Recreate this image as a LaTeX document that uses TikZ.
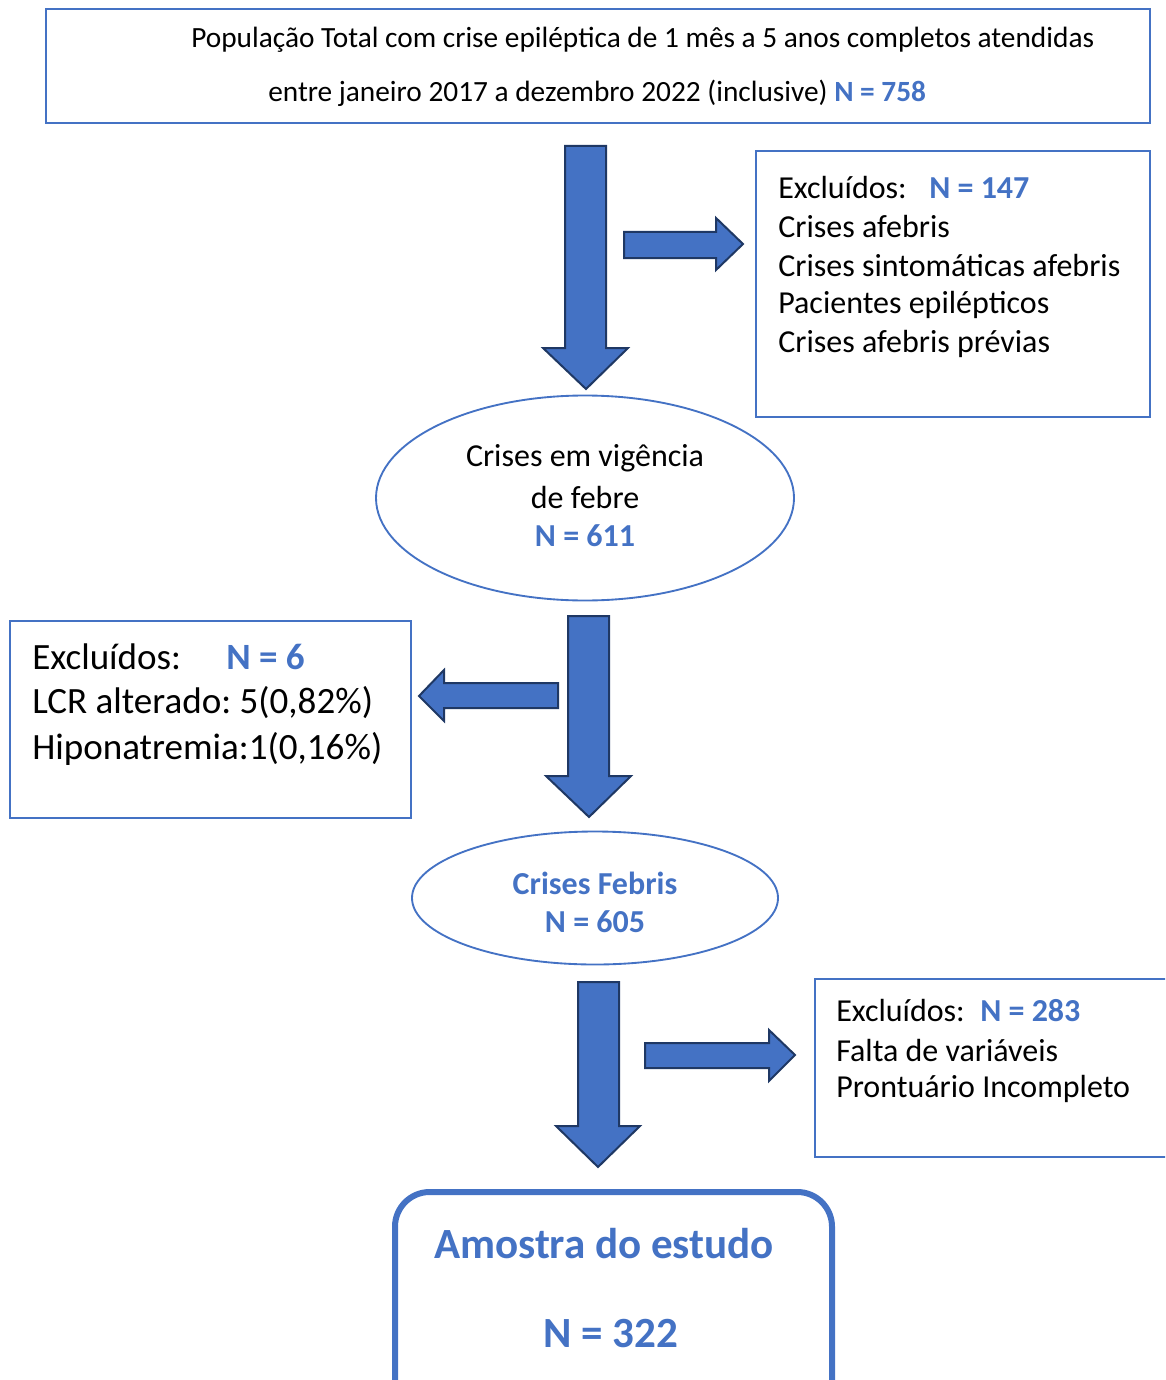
\documentclass[tikz,border=0pt]{standalone}
\usepackage{fontspec}
\setmainfont{Carlito}
\usetikzlibrary{fit,shapes.geometric}
\definecolor{wblue}{HTML}{4472C4}
\definecolor{wnavy}{HTML}{1F3864}
\frenchspacing
\begin{document}
\begin{tikzpicture}[x=0.75pt,y=-0.75pt,
  boxline/.style={draw=wblue,line width=1.5pt,inner sep=0pt},
  oval/.style={ellipse,draw=wblue,line width=1.4pt,inner sep=0pt},
  blockarrow/.style={fill=wblue,draw=wnavy,line width=1.5pt,line join=miter},
  txt/.style={anchor=west,inner sep=0pt,align=left},
  ctxt/.style={inner sep=0pt,align=center},
  nb/.style={text=wblue}]
\useasboundingbox (0,0) rectangle (1165,1380);
% boxes
\node (top) [boxline,fit={(46,9) (1150,123)}] {};
\node (ex1) [boxline,fit={(756,151) (1150,417)}] {};
\node (ex2) [boxline,fit={(10,621) (411,818)}] {};
\begin{scope}
\clip (0,0) rectangle (1165,1380);
\node (ex3) [boxline,fit={(815,979) (1185,1157)}] {};
\node (final) [draw=wblue,line width=4.5pt,rounded corners=26pt,inner sep=0pt,fit={(395,1192) (832,1420)}] {};
\end{scope}
\node (o1) [oval,minimum width=313.5pt,minimum height=153.75pt] at (585,498) {};
\node (o2) [oval,minimum width=274.5pt,minimum height=99.75pt] at (595,898) {};
% texts
\begin{scope}[font=\fontsize{22}{26}\selectfont]
\node (t1) [txt] at (191,40) {População Total com crise epiléptica de 1 mês a 5 anos completos atendidas};
\node (t2) [txt] at (268,93) {entre janeiro 2017 a dezembro 2022 (inclusive) \textcolor{wblue}{\bfseries N = 758}};
\end{scope}
\begin{scope}[font=\fontsize{24}{28}\selectfont]
\node (e1a) [txt] at (778,188) {Excluídos:};
\node (e1n) [txt,nb] at (929,188) {\bfseries N = 147};
\node (e1b) [txt] at (778,227) {Crises afebris};
\node (e1c) [txt] at (778,266) {Crises sintomáticas afebris};
\node (e1d) [txt] at (778,305) {Pacientes epilépticos};
\node (e1e) [txt] at (778,344) {Crises afebris prévias};
\node (o1a) [ctxt] at (585,458) {Crises em vigência};
\node (o1b) [ctxt] at (585,497) {de febre};
\node (o1c) [ctxt,nb] at (585,536) {\bfseries N = 611};
\node (o2a) [ctxt,nb] at (595,883) {\bfseries Crises Febris};
\node (o2b) [ctxt,nb] at (595,922) {\bfseries N = 605};
\node (e3a) [txt] at (836,1011) {Excluídos:};
\node (e3n) [txt,nb] at (980,1011) {\bfseries N = 283};
\node (e3b) [txt] at (836,1050) {Falta de variáveis};
\node (e3c) [txt] at (836,1089) {Prontuário Incompleto};
\end{scope}
\begin{scope}[font=\fontsize{27.8}{33}\selectfont]
\node (e2a) [txt] at (32,657) {Excluídos:};
\node (e2n) [txt,nb] at (226,657) {\bfseries N = 6};
\node (e2b) [txt] at (32,703) {LCR alterado: 5(0,82\%)};
\node (e2c) [txt] at (32,749) {Hiponatremia:1(0,16\%)};
\end{scope}
\begin{scope}[font=\fontsize{32.3}{38}\selectfont]
\node (f1) [ctxt,nb] at (604,1244) {\bfseries Amostra do estudo};
\node (f2) [ctxt,nb] at (611,1334) {\bfseries N = 322};
\end{scope}
% block arrows
\draw[blockarrow] (565,146) -- (606,146) -- (606,348) -- (628,348) -- (586,389) -- (543,348) -- (565,348) -- cycle;
\draw[blockarrow] (624,232) -- (716,232) -- (716,218) -- (743,244) -- (716,270) -- (716,258) -- (624,258) -- cycle;
\draw[blockarrow] (568,616) -- (609,616) -- (609,776) -- (631,776) -- (589,817) -- (546,776) -- (568,776) -- cycle;
\draw[blockarrow] (558,683) -- (444,683) -- (444,670) -- (419,696) -- (444,721) -- (444,708) -- (558,708) -- cycle;
\draw[blockarrow] (578,982) -- (619,982) -- (619,1126) -- (640,1126) -- (598,1167) -- (556,1126) -- (578,1126) -- cycle;
\draw[blockarrow] (645,1043) -- (769,1043) -- (769,1030) -- (795,1055) -- (769,1081) -- (769,1068) -- (645,1068) -- cycle;
\end{tikzpicture}
\end{document}
